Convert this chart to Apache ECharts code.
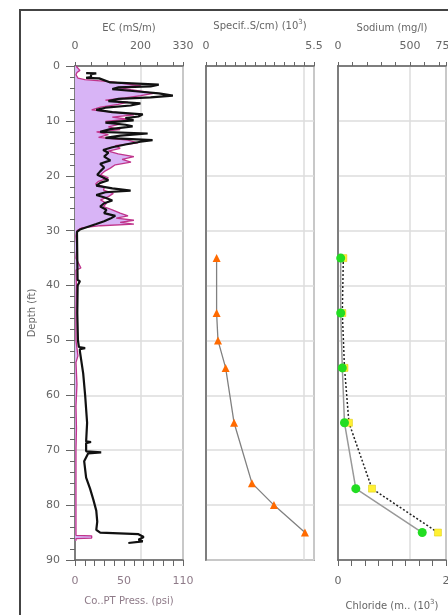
<!DOCTYPE html>
<html>
<head>
<meta charset="utf-8">
<script src="https://cdn.jsdelivr.net/npm/echarts@6/dist/echarts.min.js"></script>
<style>
html,body{margin:0;padding:0;background:#fff;}
#chart{width:448px;height:615px;}
</style>
</head>
<body>
<div id="chart"></div>
<script>
// ---- Data ----
// Black log: EC (mS/m), top axis of panel 1
const ecDepth = [1.3,1.35,1.5,2.0,2.15,2.25,2.6,3.0,3.4,3.7,3.9,4.2,4.6,5.0,5.4,5.7,6.0,6.4,6.8,7.2,7.6,8.0,8.4,8.8,9.2,9.5,9.9,10.3,10.7,11.0,11.5,12.0,12.3,12.7,13.1,13.5,13.8,14.3,14.8,15.3,15.8,16.5,17.2,17.8,18.5,19.2,19.8,20.3,20.8,21.3,21.8,22.3,22.7,23.0,23.5,24.0,24.5,25.0,25.6,26.2,26.8,27.3,27.8,28.3,28.8,29.3,29.8,30.2,35,39,39.2,40,45,50,51.2,51.4,51.6,52,56,60,65,68.4,68.5,68.7,70.2,70.4,70.6,72,75,77,79,81,83,84.5,85.0,85.3,85.8,86.3,86.6,86.9];
const ecValue = [34,65,49,49,34,74,80,108,256,231,133,114,185,256,299,231,133,102,200,170,93,65,114,207,194,154,179,93,154,176,108,77,222,139,93,237,200,154,114,86,102,89,108,77,89,77,68,86,102,77,65,114,170,93,65,93,114,89,77,96,89,123,108,89,65,40,15,6,7,8,15,8,7,9,12,31,15,15,25,31,37,34,49,34,34,80,40,28,34,46,56,65,68,65,77,194,210,194,207,163];

// Pink log with fill: CPT pressure (psi), bottom axis of panel 1
const psiDepth = [0.0,0.8,1.2,1.6,2.2,2.5,2.9,3.3,3.6,3.9,4.3,4.7,5.0,5.4,5.8,6.2,6.6,7.0,7.5,8.0,8.5,8.9,9.3,9.7,10.1,10.6,11.1,11.6,12.0,12.5,13.0,13.5,14.0,14.5,15.0,15.5,16.0,16.5,17.0,17.5,18.0,18.6,19.2,19.8,20.4,21.0,21.5,22.0,22.6,23.2,23.8,24.4,25.0,25.6,26.2,26.8,27.3,27.7,28.1,28.5,28.8,29.1,29.5,30.0,31,33,35,36.8,37.2,40,45,50,52.8,54,58,62,66,70,75,80,84,85.5,85.6,86.0,86.1,86.5];
const psiValue = [1,5,2,1,3,10,38,54,67,44,57,72,80,67,51,31,54,44,26,17,44,60,38,54,31,46,34,46,22,34,24,54,64,41,46,34,44,60,48,57,41,36,30,26,34,24,21,30,29,39,34,26,32,29,38,46,54,42,60,46,60,26,7,2,1,2,1,6,1,1.5,1,1,3,1,2,1,1.5,1,1,1,1,1,17,17,1,1];

// Panel 2: specific conductance (10^3 uS/cm)
const condDepth = [35,45,50,55,65,76,80,85];
const condValue = [0.54,0.54,0.61,1.0,1.43,2.34,3.46,5.04];

// Panel 3: sodium (mg/l) and chloride (10^3 mg/l)
const naDepth = [35,45,55,65,77,85];
const naValue = [37,30,45,76,236,694];
const clDepth = [35,45,55,65,77,85];
const clValue = [0.05,0.05,0.08,0.12,0.33,1.56];

// Tick labels shown
const ecLabels = [0,200,330];
const psiLabels = [0,50,110];
const condLabels = [0,5.5];
const naLabels = [0,500,750];
const clLabels = [0,2];
const depthLabels = [0,10,20,30,40,50,60,70,80,90];

// ---- Build ----
const zip = (v,d) => v.map((x,i)=>[x,d[i]]);
const FONT = 'DejaVu Sans';
const GRIDS = [
  {left:75, top:66, width:108, height:494},
  {left:206, top:66, width:108, height:494},
  {left:338, top:66, width:108, height:494}
];
function shown(list){ return v => list.some(l=>Math.abs(l-v)<1e-6) ? String(v) : ''; }
const baseLabel = {fontFamily:FONT, fontSize:11, color:'#666', margin:14, showMinLabel:true, showMaxLabel:true, hideOverlap:false};

function xAx(o){
  return Object.assign({
    type:'value', position:'top',
    axisLine:{show:true, lineStyle:{color:'#666', width:1.5}},
    axisTick:{show:true, inside:false, length:4, lineStyle:{color:'#666'}},
    axisLabel:Object.assign({}, baseLabel),
    splitLine:{show:false},
    nameLocation:'middle', nameGap:33,
    nameTextStyle:{fontFamily:FONT, fontSize:10, color:'#666',
      rich:{sup:{fontFamily:FONT, fontSize:7, color:'#666', padding:[0,0,7,0]}}}
  }, o);
}
function hiddenX(grid, max, interval){
  return {type:'value', gridIndex:grid, position:'top', min:0, max:max, interval:interval,
    axisLine:{show:false}, axisTick:{show:false}, axisLabel:{show:false},
    splitLine:{show:true, lineStyle:{color:'#dcdcdc', width:1.5}}};
}
function yAx(grid, main){
  return {type:'value', gridIndex:grid, inverse:true, min:0, max:90, interval:10,
    axisLine:{show:true, lineStyle:{color:'#666', width:1.5}},
    axisTick:{show:main, inside:false, length:9, lineStyle:{color:'#666'}},
    minorTick:{show:main, splitNumber:5, length:5, lineStyle:{color:'#666'}},
    axisLabel:{show:main, fontFamily:FONT, fontSize:11, color:'#666', margin:15,
      formatter: v => depthLabels.indexOf(v)>=0 ? String(v) : ''},
    splitLine:{show:true, lineStyle:{color:'#dcdcdc', width:1.5}},
    name: main ? 'Depth (ft)' : '', nameLocation:'middle', nameGap:38, nameRotate:90,
    nameTextStyle:{fontFamily:FONT, fontSize:10, color:'#666'}};
}

const option = {
  animation:false,
  backgroundColor:'#fff',
  graphic:[{type:'rect', shape:{x:20,y:10,width:700,height:800}, style:{fill:null, stroke:'#444', lineWidth:2}, z:100}],
  grid: GRIDS.map(g=>Object.assign({show:true, borderColor:'#666', borderWidth:1.5, backgroundColor:'#fff', containLabel:false, outerBoundsMode:'none'}, g)),
  xAxis:[
    xAx({gridIndex:0, min:0, max:330, interval:50, name:'EC (mS/m)', axisLabel:Object.assign({}, baseLabel, {formatter:shown(ecLabels)})}),
    xAx({gridIndex:0, position:'bottom', min:0, max:110, interval:10, name:'Co..PT Press. (psi)', nameGap:36,
      axisTick:{show:true, length:6, lineStyle:{color:'#666'}},
      axisLabel:Object.assign({}, baseLabel, {color:'#8e7a88', margin:16, formatter:shown(psiLabels)}),
      nameTextStyle:{fontFamily:FONT, fontSize:10, color:'#8e7a88'}}),
    hiddenX(0, 330, 200),
    xAx({gridIndex:1, min:0, max:5.5, interval:0.5, name:'Specif..S/cm) (10{sup|3})', axisLabel:Object.assign({}, baseLabel, {formatter:shown(condLabels)})}),
    hiddenX(1, 5.5, 5),
    xAx({gridIndex:2, min:0, max:750, interval:100, name:'Sodium (mg/l)', axisLabel:Object.assign({}, baseLabel, {formatter:shown(naLabels)})}),
    xAx({gridIndex:2, position:'bottom', min:0, max:2, interval:0.25, name:'Chloride (m.. (10{sup|3})', nameGap:39,
      axisTick:{show:true, length:6, lineStyle:{color:'#666'}},
      axisLabel:Object.assign({}, baseLabel, {margin:16, formatter:shown(clLabels)})}),
    hiddenX(2, 750, 500)
  ],
  yAxis:[yAx(0,true), yAx(1,false), yAx(2,false)],
  series:[
    {type:'custom', xAxisIndex:1, yAxisIndex:0, data:zip(psiValue, psiDepth), silent:true, z:1,
      renderItem:function(params, api){
        if (params.dataIndex !== 0) return null;
        const pts = [api.coord([0, psiDepth[0]])];
        for (let i=0;i<psiDepth.length;i++) pts.push(api.coord([psiValue[i], psiDepth[i]]));
        pts.push(api.coord([0, psiDepth[psiDepth.length-1]]));
        return {type:'polygon', shape:{points:pts}, style:{fill:'#d8b4f6', stroke:null}};
      }},
    {type:'line', xAxisIndex:1, yAxisIndex:0, data:zip(psiValue, psiDepth), symbol:'none', z:3,
      lineStyle:{color:'#c0358c', width:1.3}},
    {type:'line', xAxisIndex:0, yAxisIndex:0, data:zip(ecValue, ecDepth), symbol:'none', z:4,
      lineStyle:{color:'#111', width:2.2}},
    {type:'line', xAxisIndex:3, yAxisIndex:1, data:zip(condValue, condDepth), symbol:'triangle', symbolSize:8, z:3,
      itemStyle:{color:'#ff6a00'}, lineStyle:{color:'#808080', width:1.3}},
    {type:'line', xAxisIndex:5, yAxisIndex:2, data:zip(naValue, naDepth), symbol:'rect', symbolSize:7, z:3,
      itemStyle:{color:'#fff033', borderColor:'#d8c800', borderWidth:0.5}, lineStyle:{color:'#222', width:1.5, type:[2,2]}},
    {type:'line', xAxisIndex:6, yAxisIndex:2, data:zip(clValue, clDepth), symbol:'circle', symbolSize:9, z:4,
      itemStyle:{color:'#22dd22'}, lineStyle:{color:'#999', width:1.5}}
  ]
};
const chart = echarts.init(document.getElementById('chart'), null, {renderer:'canvas'});
chart.setOption(option);
</script>
</body>
</html>
